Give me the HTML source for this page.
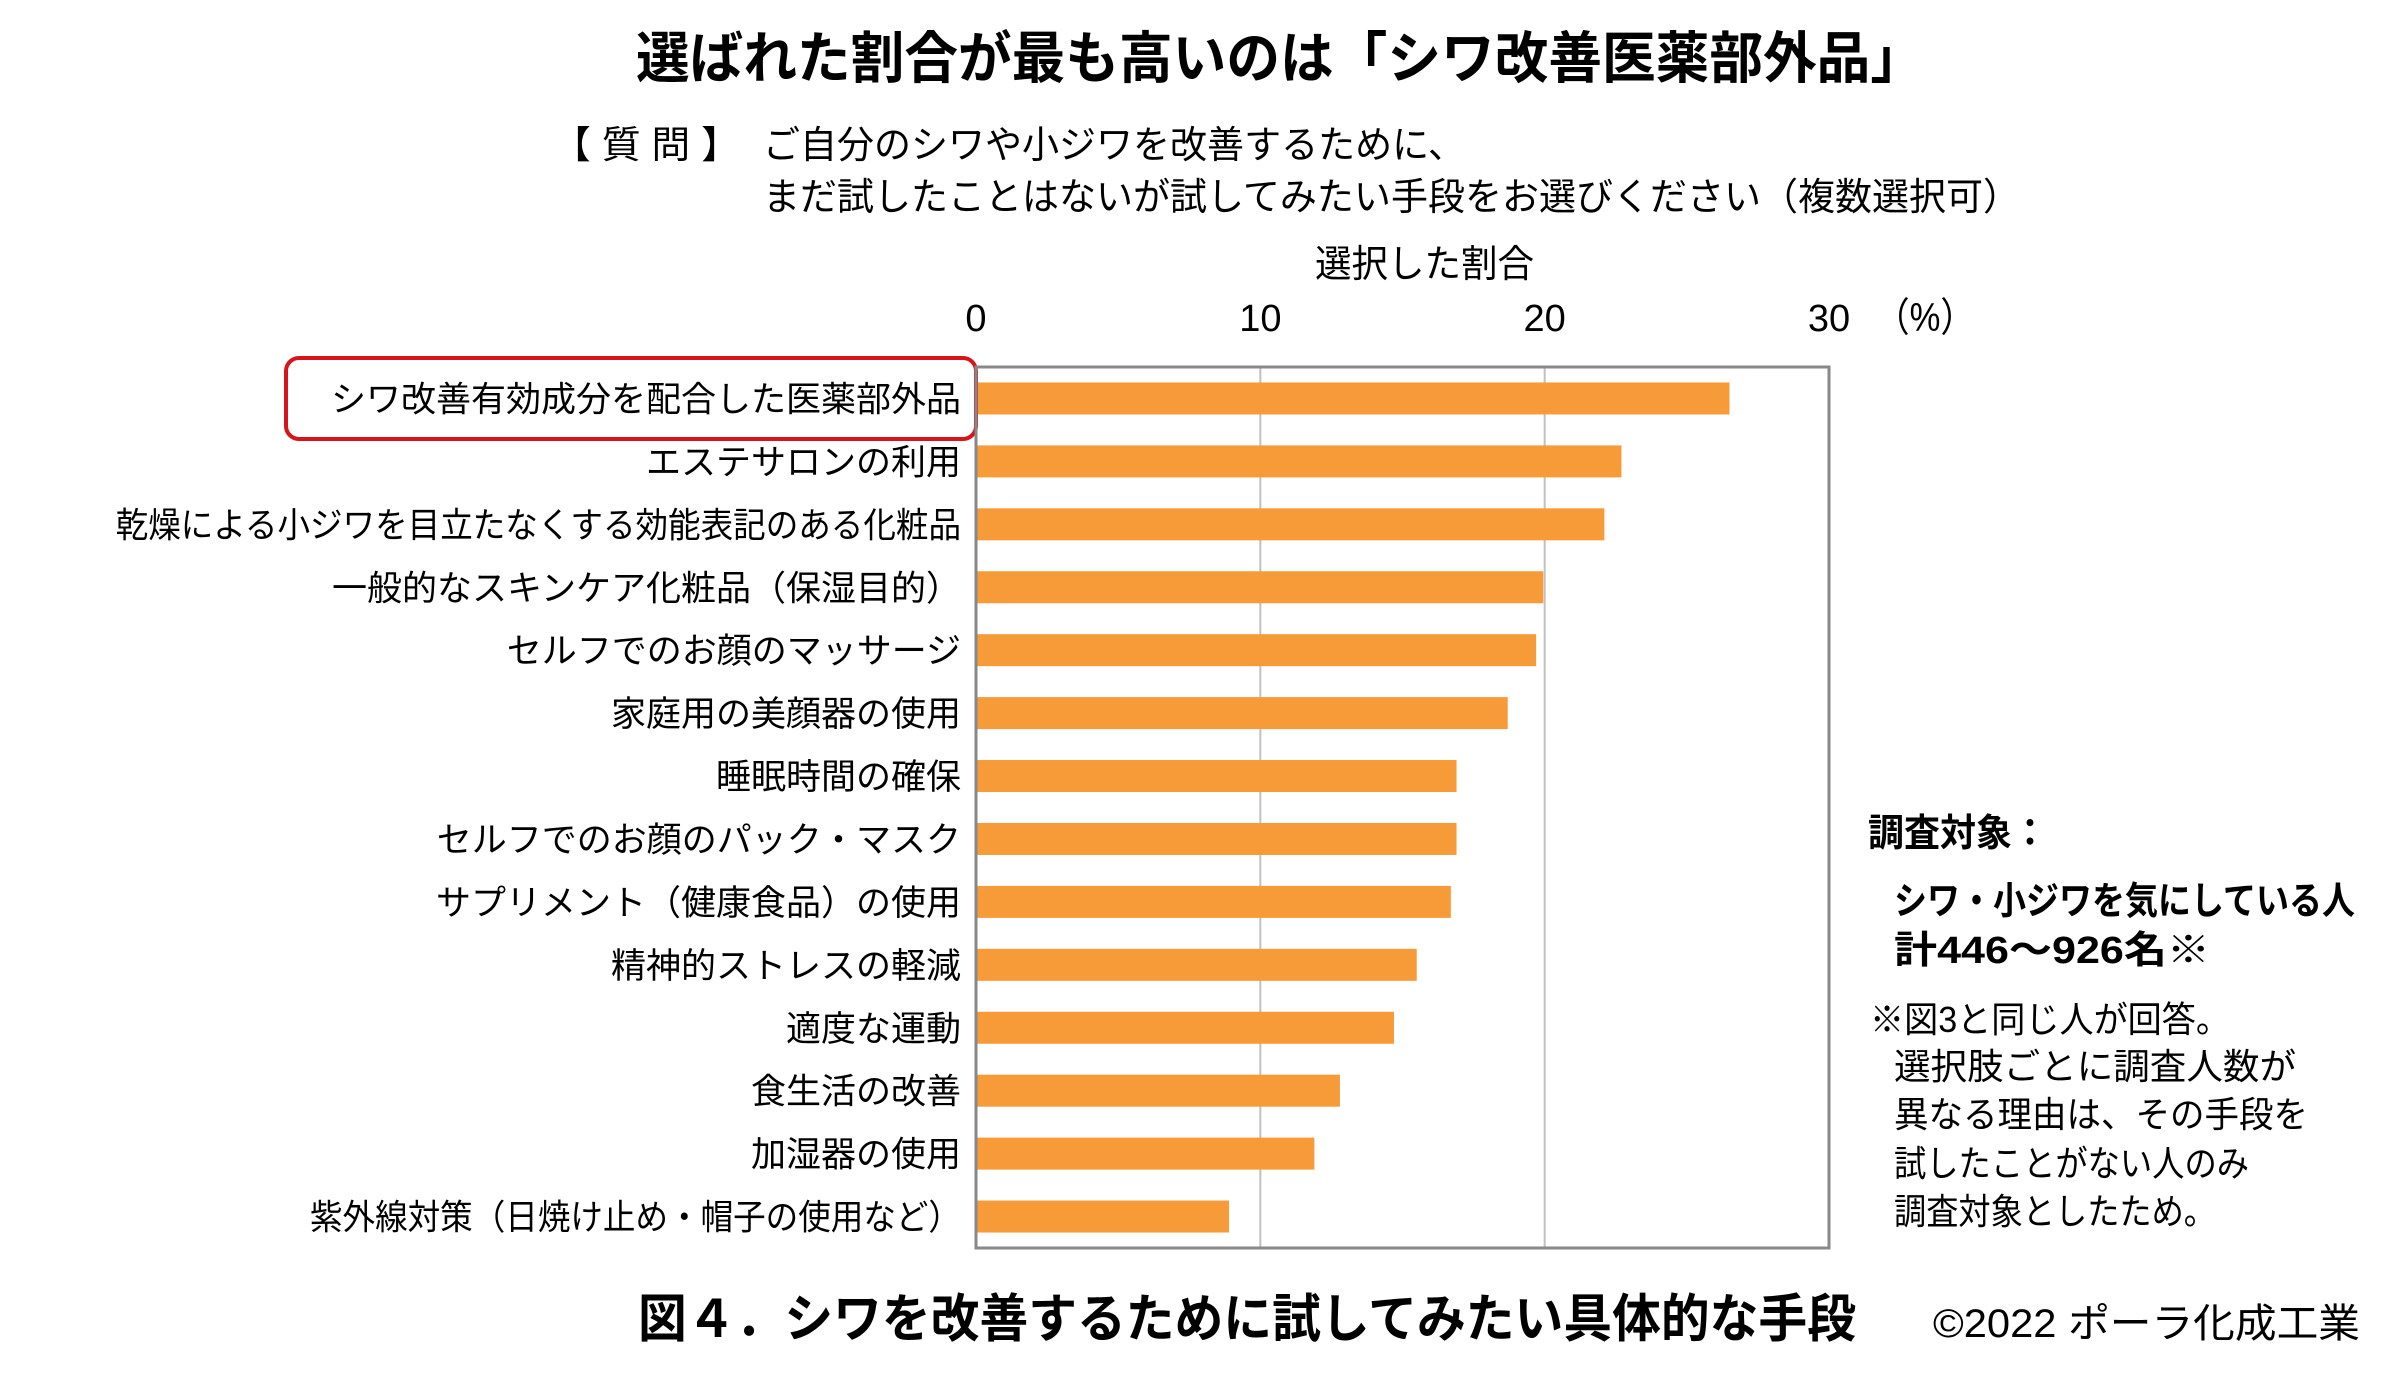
<!DOCTYPE html>
<html><head><meta charset="utf-8"><style>
html,body{margin:0;padding:0;background:#fff;}
svg{display:block;}
text{font-family:"Liberation Sans","Noto Sans CJK JP",sans-serif;fill:#000;}
</style></head><body>
<svg id="chart" width="2390" height="1381" viewBox="0 0 2390 1381" xmlns="http://www.w3.org/2000/svg">
<text x="636" y="78" font-size="56" font-weight="bold" textLength="1288" lengthAdjust="spacingAndGlyphs">選ばれた割合が最も高いのは「シワ改善医薬部外品」</text>
<text x="552" y="158" font-size="38" textLength="188" lengthAdjust="spacingAndGlyphs">【 質 問 】</text>
<text x="763" y="158" font-size="38" textLength="702" lengthAdjust="spacingAndGlyphs">ご自分のシワや小ジワを改善するために、</text>
<text x="763" y="210" font-size="38" textLength="1257" lengthAdjust="spacingAndGlyphs">まだ試したことはないが試してみたい手段をお選びください（複数選択可）</text>
<text x="1315" y="277" font-size="38" textLength="219" lengthAdjust="spacingAndGlyphs">選択した割合</text>
<text x="1875" y="331" font-size="40" textLength="100" lengthAdjust="spacingAndGlyphs">（%）</text>
<g id="grid"></g>
<g id="bars"></g>
<g id="ticks"></g>
<g id="cats"></g>
<rect x="286" y="358" width="690" height="81" rx="13" fill="none" stroke="#d7141a" stroke-width="4"/>
<text x="1868" y="846" font-size="38" font-weight="bold" textLength="180" lengthAdjust="spacingAndGlyphs">調査対象：</text>
<text x="1894" y="914" font-size="38" font-weight="bold" textLength="461" lengthAdjust="spacingAndGlyphs">シワ・小ジワを気にしている人</text>
<text x="1894" y="963" font-size="38" font-weight="bold" textLength="316" lengthAdjust="spacingAndGlyphs">計446～926名※</text>
<text x="1870" y="1032" font-size="36" textLength="360" lengthAdjust="spacingAndGlyphs">※図3と同じ人が回答。</text>
<text x="1894" y="1079" font-size="36" textLength="402" lengthAdjust="spacingAndGlyphs">選択肢ごとに調査人数が</text>
<text x="1894" y="1127" font-size="36" textLength="414" lengthAdjust="spacingAndGlyphs">異なる理由は、その手段を</text>
<text x="1894" y="1176" font-size="36" textLength="355" lengthAdjust="spacingAndGlyphs">試したことがない人のみ</text>
<text x="1894" y="1224" font-size="36" textLength="322" lengthAdjust="spacingAndGlyphs">調査対象としたため。</text>
<text x="638" y="1337" font-size="52" font-weight="bold" textLength="1218" lengthAdjust="spacingAndGlyphs">図４．シワを改善するために試してみたい具体的な手段</text>
<text x="1933" y="1337" font-size="40" textLength="427" lengthAdjust="spacingAndGlyphs">©2022 ポーラ化成工業</text>
</svg>
<script>
const categories = ["シワ改善有効成分を配合した医薬部外品","エステサロンの利用","乾燥による小ジワを目立たなくする効能表記のある化粧品","一般的なスキンケア化粧品（保湿目的）","セルフでのお顔のマッサージ","家庭用の美顔器の使用","睡眠時間の確保","セルフでのお顔のパック・マスク","サプリメント（健康食品）の使用","精神的ストレスの軽減","適度な運動","食生活の改善","加湿器の使用","紫外線対策（日焼け止め・帽子の使用など）"];
const values = [26.5,22.7,22.1,19.95,19.7,18.7,16.9,16.9,16.7,15.5,14.7,12.8,11.9,8.9];
const tickValues = [0,10,20,30];
const tickLabels = ["0","10","20","30"];
const NS="http://www.w3.org/2000/svg";
const X0=976,X1=1829,XMAX=30,Y0=367,Y1=1248;
const xs=v=>X0+(X1-X0)*v/XMAX;
const band=(Y1-Y0)/categories.length;
const yc=i=>Y0+band*(i+0.5);
function mk(tag,attrs,parent){const e=document.createElementNS(NS,tag);for(const k in attrs)e.setAttribute(k,attrs[k]);parent.appendChild(e);return e;}
const grid=document.getElementById('grid'),bars=document.getElementById('bars'),ticks=document.getElementById('ticks'),cats=document.getElementById('cats');
tickValues.forEach((t,i)=>{
  if(t>0&&t<XMAX){const l=mk('line',{x1:xs(t),x2:xs(t),y1:Y0,y2:Y1,stroke:'#c0c0c0','stroke-width':2},grid);
  
  }
  const tx=mk('text',{x:xs(t),y:331,'font-size':38,'text-anchor':'middle'},ticks);
  tx.textContent=tickLabels[i];
  
  
});
categories.forEach((c,i)=>{
  const r=mk('rect',{x:X0,y:yc(i)-16,width:xs(values[i])-X0,height:32,fill:'#F79A38'},bars);
  
  
  const t=mk('text',{x:961,y:yc(i)+13,'font-size':35,'text-anchor':'end'},cats);
  t.textContent=c;
  
  
  const w=t.getComputedTextLength();
  if(w>640){t.setAttribute('textLength',w*0.93);t.setAttribute('lengthAdjust','spacingAndGlyphs');}
});
const frame=mk('rect',{x:X0,y:Y0,width:X1-X0,height:Y1-Y0,fill:'none',stroke:'#888','stroke-width':3},document.getElementById('chart'));


</script>
</body></html>
